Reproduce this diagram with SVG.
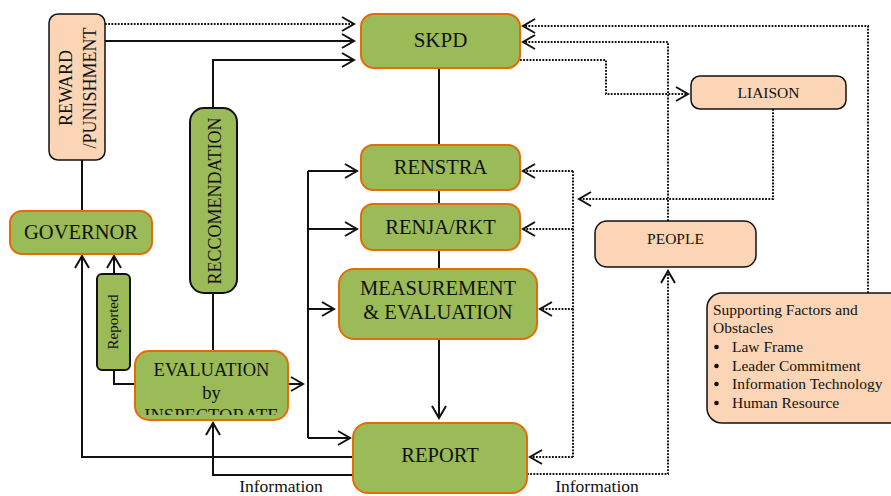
<svg xmlns="http://www.w3.org/2000/svg" width="891" height="496" viewBox="0 0 891 496">
<style>
text{font-family:"Liberation Serif","Times New Roman",serif;fill:#111}
.g{fill:#9BBB59;stroke:#E36C09;stroke-width:2}
.gk{fill:#9BBB59;stroke:#111;stroke-width:2}
.p{fill:#FBD5B5;stroke:#111;stroke-width:1.5}
.s{fill:none;stroke:#111;stroke-width:2}
.d{fill:none;stroke:#111;stroke-width:2;stroke-dasharray:1.8 1.4}
.c{text-anchor:middle}
</style>
<defs>
<marker id="a" markerUnits="userSpaceOnUse" markerWidth="30" markerHeight="30" orient="auto" overflow="visible" refX="0" refY="0">
<path d="M-12,-7 L0,0 L-12,7" fill="none" stroke="#111" stroke-width="2"/>
</marker>
<clipPath id="ec"><rect x="136" y="352" width="151" height="63"/></clipPath>
</defs>

<g id="connectors">
<path class="d" d="M105,24 H354" marker-end="url(#a)"/>
<path class="s" d="M105,41 H354" marker-end="url(#a)"/>
<path class="s" d="M213,108 V60 H354" marker-end="url(#a)"/>
<path class="s" d="M82,160 V211"/>
<path class="s" d="M439,68 V145 M439,190 V204 M439,250 V269"/>
<path class="s" d="M439,339 V418" marker-end="url(#a)"/>
<path class="s" d="M308,171 V438"/>
<path class="s" d="M308,171 H357" marker-end="url(#a)"/>
<path class="s" d="M308,229 H357" marker-end="url(#a)"/>
<path class="s" d="M308,309 H334" marker-end="url(#a)"/>
<path class="s" d="M308,438 H350" marker-end="url(#a)"/>
<path class="s" d="M288,384 H303" marker-end="url(#a)"/>
<path class="s" d="M213,293 V351"/>
<path class="s" d="M114,274 V256" marker-end="url(#a)"/>
<path class="s" d="M114,370 V384 H135"/>
<path class="s" d="M353,457 H82 V256" marker-end="url(#a)"/>
<path class="s" d="M353,475 H213 V423" marker-end="url(#a)"/>
<path class="d" d="M573,171 V457"/>
<path class="d" d="M573,171 H523" marker-end="url(#a)"/>
<path class="d" d="M573,229 H523" marker-end="url(#a)"/>
<path class="d" d="M573,309 H540" marker-end="url(#a)"/>
<path class="d" d="M573,457 H530" marker-end="url(#a)"/>
<path class="d" d="M773,109 V199 H579" marker-end="url(#a)"/>
<path class="d" d="M520,60 H606 V94 H688" marker-end="url(#a)"/>
<path class="d" d="M668,221 V42 H523" marker-end="url(#a)"/>
<path class="d" d="M868,293 V26 H523" marker-end="url(#a)"/>
<path class="d" d="M527,474 H668 V271" marker-end="url(#a)"/>
<text x="281" y="492" class="c" font-size="17.5">Information</text>
<text x="597" y="492" class="c" font-size="17.5">Information</text>
</g>

<g id="reward">
<rect class="p" x="49" y="14" width="56" height="146" rx="9"/>
<text transform="translate(71.5,88) rotate(-90)" class="c" font-size="18">REWARD</text>
<text transform="translate(95.5,88) rotate(-90)" class="c" font-size="18">/PUNISHMENT</text>
</g>

<g id="skpd">
<rect class="g" x="361" y="14" width="159" height="54" rx="13"/>
<text x="440.5" y="47" class="c" font-size="21">SKPD</text>
</g>

<g id="reccomendation">
<rect class="gk" x="190" y="108" width="47" height="185" rx="14"/>
<text transform="translate(221,201) rotate(-90)" class="c" font-size="18">RECCOMENDATION</text>
</g>

<g id="renstra">
<rect class="g" x="361" y="145" width="159" height="45" rx="12"/>
<text x="440.5" y="174" class="c" font-size="20.5">RENSTRA</text>
</g>

<g id="renja">
<rect class="g" x="361" y="204" width="159" height="46" rx="12"/>
<text x="440.5" y="234" class="c" font-size="20.5">RENJA/RKT</text>
</g>

<g id="measurement">
<rect class="g" x="339" y="269" width="198" height="70" rx="15"/>
<text x="438" y="295" class="c" font-size="20.5">MEASUREMENT</text>
<text x="438" y="319" class="c" font-size="20.5">&amp; EVALUATION</text>
</g>

<g id="report">
<rect class="g" x="353" y="423" width="174" height="70" rx="15"/>
<text x="440" y="462" class="c" font-size="20.5">REPORT</text>
</g>

<g id="governor">
<rect class="g" x="10" y="211" width="142" height="43" rx="12"/>
<text x="81" y="239" class="c" font-size="20.5">GOVERNOR</text>
</g>

<g id="reported">
<rect class="gk" x="97" y="274" width="33" height="96" rx="5"/>
<text transform="translate(118,322) rotate(-90)" class="c" font-size="15">Reported</text>
</g>

<g id="evaluation">
<rect class="g" x="135" y="351" width="153" height="69" rx="14"/>
<g clip-path="url(#ec)">
<text x="211.5" y="376" class="c" font-size="18.5">EVALUATION</text>
<text x="211.5" y="399" class="c" font-size="18.5">by</text>
<text x="211.5" y="422" class="c" font-size="18.5">INSPECTORATE</text>
</g>
</g>

<g id="liaison">
<rect class="p" x="691" y="76" width="155" height="33" rx="9"/>
<text x="768.5" y="98" class="c" font-size="15.5">LIAISON</text>
</g>

<g id="people">
<rect class="p" x="595" y="221" width="161" height="46" rx="12"/>
<text x="675.5" y="244" class="c" font-size="15.5">PEOPLE</text>
</g>

<g id="supporting">
<rect class="p" x="707" y="293" width="200" height="130" rx="15"/>
<text x="713" y="315" font-size="15.5">Supporting Factors and</text>
<text x="713" y="333" font-size="15.5">Obstacles</text>
<g fill="#111">
<circle cx="716.5" cy="347" r="2.3"/>
<circle cx="716.5" cy="366" r="2.3"/>
<circle cx="716.5" cy="384" r="2.3"/>
<circle cx="716.5" cy="403" r="2.3"/>
</g>
<text x="732" y="352" font-size="15.5">Law Frame</text>
<text x="732" y="371" font-size="15.5">Leader Commitment</text>
<text x="732" y="389" font-size="15.5">Information Technology</text>
<text x="732" y="408" font-size="15.5">Human Resource</text>
</g>
</svg>
